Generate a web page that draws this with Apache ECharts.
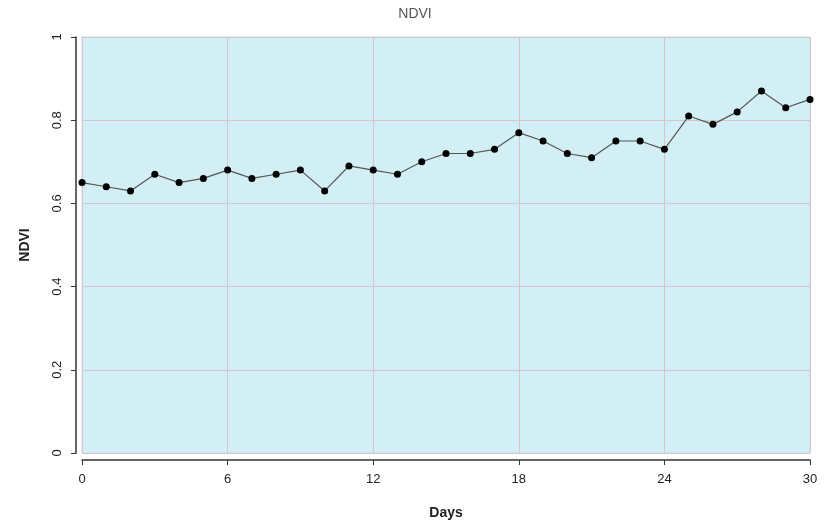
<!DOCTYPE html>
<html><head><meta charset="utf-8">
<script src="https://cdn.jsdelivr.net/npm/echarts@6/dist/echarts.min.js"></script>
<style>html,body{margin:0;padding:0;background:#fff}#c{width:830px;height:527px}</style>
</head><body><div id="c"></div>
<script>
const days = [0,1,2,3,4,5,6,7,8,9,10,11,12,13,14,15,16,17,18,19,20,21,22,23,24,25,26,27,28,29,30];
const ndvi = [0.65,0.64,0.63,0.67,0.65,0.66,0.68,0.66,0.67,0.68,0.63,0.69,0.68,0.67,0.70,0.72,0.72,0.73,0.77,0.75,0.72,0.71,0.75,0.75,0.73,0.81,0.79,0.82,0.87,0.83,0.85];
const xTicks = [0,6,12,18,24,30];
const yTicks = [0,0.2,0.4,0.6,0.8,1];

const chart = echarts.init(document.getElementById('c'), null, {renderer:'canvas'});
const font = 'Liberation Sans, Arial, sans-serif';
chart.setOption({
  animation:false,
  backgroundColor:'#ffffff',
  title:{text:'NDVI', left:'center', top:2, textStyle:{fontFamily:font, fontSize:14, fontWeight:'normal', color:'#555'}},
  grid:{left:82, right:20, top:37, bottom:74, show:true, backgroundColor:'#d3eff6', borderColor:'#c9dde2', borderWidth:1},
  xAxis:{type:'value', min:xTicks[0], max:xTicks[xTicks.length-1], interval:6, offset:7, position:'bottom',
    name:'Days', nameLocation:'middle', nameGap:46,
    nameTextStyle:{fontFamily:font, fontSize:14, fontWeight:'bold', color:'#222'},
    axisLine:{show:true, onZero:false, lineStyle:{color:'#333', width:1.5}},
    axisTick:{show:true, length:5, lineStyle:{color:'#333'}},
    axisLabel:{fontFamily:font, fontSize:13, color:'#222', margin:13},
    splitLine:{show:true, lineStyle:{color:'#d8c4cc', width:1}}},
  yAxis:{type:'value', min:yTicks[0], max:yTicks[yTicks.length-1], interval:0.2, offset:6, position:'left',
    name:'NDVI', nameLocation:'middle', nameGap:44, nameRotate:90,
    nameTextStyle:{fontFamily:font, fontSize:14, fontWeight:'bold', color:'#222'},
    axisLine:{show:true, onZero:false, lineStyle:{color:'#333', width:1.5}},
    axisTick:{show:true, length:5, lineStyle:{color:'#333'}},
    axisLabel:{fontFamily:font, fontSize:13, color:'#222', rotate:90, margin:12,
      formatter:function(v){return v===0?'0':v===1?'1':String(v);}},
    splitLine:{show:true, lineStyle:{color:'#d8c4cc', width:1}}},
  series:[{type:'line', data:days.map((d,i)=>[d, ndvi[i]]),
    symbol:'circle', symbolSize:7, itemStyle:{color:'#000'},
    lineStyle:{color:'#555', width:1.2}, clip:false}]
});
</script></body></html>
